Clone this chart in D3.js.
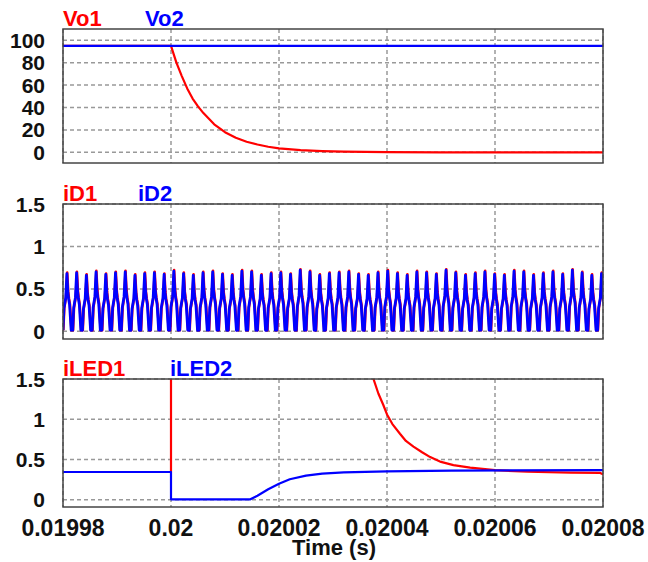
<!DOCTYPE html>
<html>
<head>
<meta charset="utf-8">
<script src="https://cdn.jsdelivr.net/npm/d3@7"></script>
<style>
  body { margin: 0; background: #fff; }
  svg { display: block; font-family: "Liberation Sans", Arial, sans-serif; font-weight: bold; }
</style>
</head>
<body>
<div id="chart"></div>
<script>
// time in microseconds after t0 = 0.02 s
const t0 = 0.02
const xTicks = [0.01998, 0.02, 0.02002, 0.02004, 0.02006, 0.02008]
const xTickLabels = ['0.01998', '0.02', '0.02002', '0.02004', '0.02006', '0.02008']

// panel 1: output voltages
const vo2 = [[-20, 95], [80, 95]]
const vo1 = [[-20, 95], [0, 95], [1, 80], [2, 68], [3, 57], [4, 48], [5, 41], [6, 35],
             [8, 25], [10, 18], [12, 13], [14, 9.5], [16, 7], [18, 5], [20, 3.5],
             [24, 2], [28, 1.1], [32, 0.6], [40, 0.2], [50, 0], [80, 0]]
const voTicks = [0, 20, 40, 60, 80, 100]

// panel 2: diode currents, one switching period shape (fraction of period, fraction of peak)
const periodUs = 1.8
const cycleShape = [[0, 0.02], [0.1, 0.4], [0.18, 0.48], [0.28, 0.58], [0.4, 1],
                    [0.5, 0.68], [0.58, 0.56], [0.68, 0.46], [0.84, 0.02]]
const iDPeaks = [0.68, 0.69, 0.66, 0.7, 0.67, 0.69, 0.7, 0.66, 0.68, 0.69, 0.67, 0.71,
                 0.68, 0.66, 0.69, 0.7, 0.67, 0.66, 0.71, 0.7, 0.66, 0.68, 0.69, 0.67,
                 0.72, 0.7, 0.66, 0.68, 0.69, 0.7, 0.67, 0.66, 0.69, 0.71, 0.68, 0.66,
                 0.7, 0.69, 0.67, 0.72, 0.69, 0.66, 0.68, 0.7, 0.67, 0.66, 0.71, 0.7,
                 0.66, 0.68, 0.7, 0.67, 0.72, 0.69, 0.66, 0.68, 0.7]
const iTicks = [0, 0.5, 1, 1.5]

// panel 3: LED currents
const iLed2 = [[-20, 0.345], [0, 0.345], [0, 0.005], [14.7, 0.005], [16, 0.05], [18, 0.13],
               [20, 0.2], [22, 0.255], [25, 0.3], [28, 0.325], [32, 0.34], [40, 0.352],
               [52, 0.362], [80, 0.368]]
const iLed1 = [[-20, 0.345], [0, 0.345], [0, 3], [30, 3], [37, 1.6], [38.4, 1.32],
               [39.3, 1.18], [40, 1.06], [41, 0.94], [42.4, 0.82], [43.5, 0.73], [44.9, 0.66],
               [46.5, 0.59], [48, 0.53], [50, 0.47], [52.3, 0.43], [55.4, 0.4], [60, 0.368],
               [66, 0.348], [74, 0.338], [79.5, 0.333], [80, 0.315]]

const toSec = us => t0 + us * 1e-6

const svg = d3.select('#chart').append('svg').attr('width', 648).attr('height', 562)
const x = d3.scaleLinear().domain([0.01998, 0.02008]).range([63, 603])

function panel(name, top, bottom, yDomain, ticks, fmt, series, labels) {
    const y = d3.scaleLinear().domain(yDomain).range([bottom, top])
    const g = svg.append('g')

    g.append('clipPath').attr('id', 'clip-' + name).append('rect')
     .attr('x', x.range()[0]).attr('y', top)
     .attr('width', x.range()[1] - x.range()[0]).attr('height', bottom - top)

    // dashed grid
    g.selectAll('.hgrid').data(ticks).enter().append('line')
     .attr('x1', x.range()[0]).attr('x2', x.range()[1])
     .attr('y1', d => y(d)).attr('y2', d => y(d))
     .attr('stroke', '#999').attr('stroke-width', 1.5).attr('stroke-dasharray', '4,3')
    g.selectAll('.vgrid').data(xTicks).enter().append('line')
     .attr('x1', d => x(d)).attr('x2', d => x(d))
     .attr('y1', top).attr('y2', bottom)
     .attr('stroke', '#999').attr('stroke-width', 1.5).attr('stroke-dasharray', '4,3')

    const line = d3.line().x(d => x(toSec(d[0]))).y(d => y(d[1]))
    series.forEach(s => {
        g.append('path').datum(s.data)
         .attr('clip-path', 'url(#clip-' + name + ')')
         .attr('fill', 'none').attr('stroke', s.color).attr('stroke-width', s.width || 2.2)
         .attr('stroke-linejoin', 'round')
         .attr('d', line)
    })

    g.append('rect').attr('x', x.range()[0]).attr('y', top)
     .attr('width', x.range()[1] - x.range()[0]).attr('height', bottom - top)
     .attr('fill', 'none').attr('stroke', '#444').attr('stroke-width', 1.5)

    // y axis labels
    g.selectAll('.ylab').data(ticks).enter().append('text')
     .attr('x', 45).attr('y', d => y(d)).attr('dy', '0.36em')
     .attr('text-anchor', 'end').attr('font-size', 21).attr('fill', '#111')
     .text(fmt)

    labels.forEach(l => {
        g.append('text').attr('x', l.x).attr('y', top - 3)
         .attr('font-size', 22).attr('fill', l.color).text(l.text)
    })
    return y
}

function switching(peaks, shiftUs) {
    const pts = []
    peaks.forEach((p, k) => {
        cycleShape.forEach(c => {
            pts.push([-20 + shiftUs + (k + c[0]) * periodUs, c[1] * p])
        })
    })
    return pts
}

panel('vo', 29, 163, [-9.5, 110], voTicks, d => d,
      [{data: vo1, color: '#ff0000'}, {data: vo2, color: '#0000ff'}],
      [{text: 'Vo1', x: 63, color: '#ff0000'}, {text: 'Vo2', x: 145, color: '#0000ff'}])

panel('id', 204, 339, [-0.09, 1.5], iTicks, d3.format('~g'),
      [{data: switching(iDPeaks.map(p => p + 0.012), 0.06), color: '#ff0000', width: 2.6},
       {data: switching(iDPeaks, 0), color: '#0000ff', width: 2.8}],
      [{text: 'iD1', x: 63, color: '#ff0000'}, {text: 'iD2', x: 138, color: '#0000ff'}])

panel('iled', 379, 507, [-0.09, 1.5], iTicks, d3.format('~g'),
      [{data: iLed1, color: '#ff0000'}, {data: iLed2, color: '#0000ff'}],
      [{text: 'iLED1', x: 63, color: '#ff0000'}, {text: 'iLED2', x: 170, color: '#0000ff'}])

// x axis labels under the last panel
svg.selectAll('.xlab').data(xTicks).enter().append('text')
   .attr('x', d => x(d)).attr('y', 536)
   .attr('text-anchor', 'middle').attr('font-size', 23).attr('fill', '#111')
   .text((d, i) => xTickLabels[i])

svg.append('text').attr('x', 334).attr('y', 555)
   .attr('text-anchor', 'middle').attr('font-size', 22).attr('fill', '#111')
   .text('Time (s)')
</script>
</body>
</html>
